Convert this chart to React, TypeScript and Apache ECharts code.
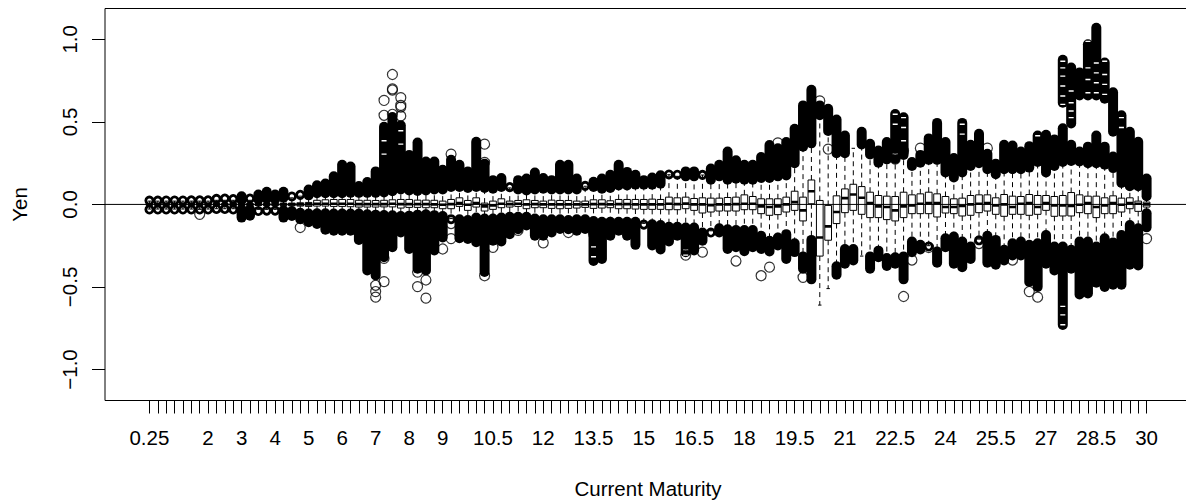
import React, { useEffect, useRef } from "react";
import * as echarts from "echarts";

const tickLabels = ["0.25","2","3","4","5","6","7","8","9","10.5","12","13.5","15","16.5","18","19.5","21","22.5","24","25.5","27","28.5","30"];
const tickIndexes = [0,7,11,15,19,23,27,31,35,41,47,53,59,65,71,77,83,89,95,101,107,113,119];
const yTicks = [-1, -0.5, 0, 0.5, 1];

const upperFence = [
  .02,.02,.02,.02,.02,.02,.02,.02,.025,.025,
  .025,.025,.025,.03,.035,.03,.04,.04,.05,.055,
  .068,.068,.068,.068,.07,.07,.07,.07,.072,.08,
  .09,.085,.082,.085,.09,.09,.105,.105,.1,.105,
  .1,.095,.105,.1,.09,.085,.09,.095,.09,.09,
  .09,.09,.11,.105,.095,.1,.115,.115,.12,.12,
  .12,.125,.18,.17,.17,.17,.178,.15,.17,.15,
  .155,.15,.15,.16,.16,.17,.175,.25,.35,.37,
  .54,.445,.31,.31,.34,.363,.303,.253,.273,.275,
  .3,.233,.253,.27,.27,.193,.163,.193,.233,.249,
  .213,.183,.213,.213,.213,.223,.257,.193,.233,.257,
  .263,.26,.25,.25,.24,.22,.13,.11,.11,.05,
];
const upperTop = [
  .026,.026,.028,.028,.028,.03,.03,.03,.042,.046,
  .04,.05,.046,.06,.076,.06,.076,.056,.066,.09,
  .116,.126,.17,.24,.23,.112,.136,.2,.47,.53,
  .48,.30,.375,.26,.26,.21,.27,.24,.2,.38,
  .247,.147,.16,.11,.147,.157,.193,.16,.147,.24,
  .24,.157,.115,.137,.157,.18,.24,.197,.18,.147,
  .163,.177,.183,.19,.2,.2,.18,.217,.24,.32,
  .267,.24,.24,.287,.36,.34,.378,.458,.6,.695,
  .6,.58,.515,.418,null,.44,.367,.327,.378,.548,
  .528,.257,.3,.4,.494,.378,.281,.494,.361,.428,
  .307,.247,.361,.357,.321,.353,.418,.422,.394,.462,
  .361,.32,.35,.418,.35,.29,.54,.44,.38,.157,
];
const secondBandIndex = [109,110,111,112,113,114,115];
const secondBandFrom = [.616,.49,.66,.66,.66,.64,.44];
const secondBandTo = [.877,.83,.80,.97,1.07,.86,.68];

const lowerFence = [
  -.028,-.028,-.028,-.028,-.028,-.028,-.028,-.028,-.026,-.026,
  -.026,-.03,-.03,-.03,-.03,-.03,-.035,-.04,-.05,-.055,
  -.054,-.054,-.055,-.055,-.055,-.055,-.06,-.062,-.064,-.066,
  -.07,-.068,-.062,-.06,-.065,-.07,-.084,-.09,-.095,-.08,
  -.085,-.085,-.08,-.075,-.075,-.075,-.085,-.09,-.09,-.09,
  -.095,-.09,-.09,-.10,-.105,-.105,-.105,-.105,-.105,-.115,
  -.12,-.125,-.135,-.135,-.14,-.14,-.17,-.16,-.145,-.15,
  -.155,-.155,-.155,-.19,-.22,-.2,-.18,-.235,-.315,-.215,
  -.61,-.51,-.375,-.27,-.27,-.313,-.315,-.28,-.325,-.32,
  -.315,-.225,-.245,-.25,-.285,-.205,-.195,-.225,-.255,-.21,
  -.19,-.215,-.275,-.235,-.225,-.245,-.235,-.185,-.255,-.255,
  -.275,-.225,-.225,-.255,-.205,-.23,-.185,-.125,-.145,-.054,
];
const lowerBottom = [
  -.034,-.034,-.034,-.034,-.034,-.034,-.034,-.034,-.03,-.03,
  -.036,-.08,-.068,-.05,-.045,-.045,-.08,-.07,-.09,-.108,
  -.118,-.153,-.159,-.159,-.159,-.215,-.4,-.43,-.32,-.259,
  -.17,-.27,-.39,-.4,-.279,-.2,-.095,-.205,-.21,-.229,
  -.41,-.22,-.225,-.18,-.15,-.128,-.19,-.19,-.17,-.149,
  -.15,-.159,-.149,-.343,-.33,-.19,-.16,-.19,-.245,-.13,
  -.249,-.273,-.225,-.19,-.29,-.279,-.22,-.18,-.17,-.27,
  -.26,-.283,-.26,-.27,-.285,-.249,-.33,-.289,-.39,-.454,
  null,null,-.426,-.36,-.34,null,-.39,-.32,-.373,-.36,
  -.454,-.29,-.273,-.26,-.353,-.26,-.36,-.38,-.33,-.225,
  -.353,-.365,-.34,-.31,-.31,-.47,-.5,-.36,-.40,-.73,
  -.39,-.546,-.54,-.474,-.5,-.486,-.486,-.365,-.37,-.139,
];
const q3 = [
  .005,.005,.005,.005,.005,.005,.005,.005,.005,.005,
  .006,.006,.006,.006,.007,.007,.008,.008,.01,.012,
  .025,.028,.03,.03,.03,.025,.025,.024,.025,.028,
  .03,.03,.026,.026,.025,.02,.03,.04,.024,.04,
  .008,.02,.034,.02,.024,.028,.024,.02,.026,.024,
  .024,.02,.02,.028,.028,.022,.03,.03,.03,.03,
  .032,.03,.044,.04,.044,.036,.04,.038,.038,.042,
  .044,.058,.048,.034,.034,.034,.044,.08,.044,.148,
  .024,-.006,.052,.094,.122,.108,.074,.054,.05,.048,
  .074,.058,.064,.074,.064,.048,.034,.038,.054,.058,
  .058,.04,.06,.05,.048,.06,.054,.054,.048,.054,
  .072,.058,.05,.05,.04,.052,.038,.04,.02,.014,
];
const median = [
  0,0,0,0,0,0,0,0,0,0,
  0,0,0,0,0,0,0,0,0,0,
  .004,.004,.004,.004,.004,.002,.002,.002,.002,.004,
  .002,.002,.002,.002,0,-.002,.002,.008,-.002,.008,
  -.012,-.006,.004,.002,.004,0,.002,0,0,0,
  0,0,0,.002,.002,0,.002,.002,0,0,
  0,0,.004,.002,.006,0,0,-.004,0,0,
  .002,.004,.004,-.012,-.016,-.012,0,.014,-.036,.08,
  -.2,-.133,-.046,.038,.06,.04,.008,-.012,-.016,-.036,
  -.012,-.006,.004,.008,.008,-.016,-.016,-.01,0,.004,
  .008,-.006,0,-.016,.004,.008,-.016,.008,-.006,-.006,
  -.01,-.002,.008,-.016,-.006,.008,-.002,.008,.004,0,
];
const q1 = [
  -.005,-.005,-.005,-.005,-.005,-.005,-.005,-.005,-.005,-.005,
  -.006,-.006,-.006,-.006,-.007,-.007,-.008,-.008,-.01,-.012,
  -.01,-.01,-.012,-.012,-.014,-.016,-.016,-.016,-.015,-.015,
  -.022,-.018,-.018,-.02,-.02,-.026,-.026,-.012,-.036,-.016,
  -.04,-.03,-.02,-.016,-.012,-.026,-.02,-.02,-.024,-.026,
  -.024,-.022,-.018,-.024,-.022,-.02,-.026,-.026,-.028,-.03,
  -.03,-.03,-.032,-.032,-.026,-.036,-.052,-.046,-.04,-.04,
  -.04,-.032,-.032,-.056,-.066,-.062,-.046,-.036,-.1,.004,
  -.313,-.217,-.116,-.05,-.036,-.06,-.08,-.08,-.092,-.1,
  -.08,-.056,-.056,-.056,-.076,-.052,-.056,-.07,-.066,-.05,
  -.04,-.06,-.072,-.06,-.06,-.066,-.06,-.036,-.072,-.07,
  -.07,-.05,-.056,-.08,-.056,-.056,-.046,-.026,-.042,-.016,
];
const sparseIndex = [28,28,29,29,29,29,30,30,30,30,36,40,40,75,80,81,89,90,92,100,27,27,27,28,28,32,32,33,33,35,36,36,40,41,44,47,50,53,64,66,70,73,74,78,90,91,93,99,103,105,106,119,6,18];
const sparseValue = [.63,.54,.787,.70,.693,.546,.647,.60,.59,.536,.305,.365,.255,.373,.627,.335,.275,.325,.341,.341,-.528,-.562,-.49,-.327,-.468,-.498,-.41,-.458,-.568,-.27,-.116,-.207,-.432,-.26,-.157,-.233,-.17,-.177,-.307,-.289,-.343,-.432,-.38,-.442,-.558,-.337,-.261,-.237,-.337,-.528,-.562,-.207,-.06,-.14];
// Places where the interior of a circle still shows through a dense stack of outliers.
const openingIndex = [109,109,109,109,109,109,109,109,109,113,113,113,113,110,110,110,110,112,112,112,112,112,112,112,114,114,114,114,116,116,89,89,89,90,90,90,97,97,28,28,30,30,30,106,53,53,64,64];
const openingValue = [.867,.827,.777,.717,.657,.606,-.618,-.669,-.729,.857,.797,.737,.677,.687,.616,.566,.526,.988,.827,.757,.677,.506,.456,.406,.867,.787,.727,.667,.526,.466,.546,.486,.305,.526,.466,.386,.486,.426,.386,.305,.526,.446,.365,.416,-.257,-.317,-.277,-.307];

const INK = "#000";
const FONT = "Liberation Sans";
const FS = 20.5;

function renderBand(_p: any, api: any) {
  const i = api.value(0), from = api.value(1), to = api.value(2);
  const a = api.coord([i, from]);
  const b = api.coord([i, to]);
  if (Math.abs(a[1] - b[1]) < 3.5) {
    return {
      type: "circle",
      shape: { cx: a[0], cy: (a[1] + b[1]) / 2, r: 3.6 },
      style: { fill: "none", stroke: INK, lineWidth: 2.8 },
    };
  }
  return {
    type: "line",
    shape: { x1: a[0], y1: a[1], x2: b[0], y2: b[1] },
    style: { stroke: INK, lineWidth: 10, lineCap: "round" },
  };
}

function renderOpening(_p: any, api: any) {
  const c = api.coord([api.value(0), api.value(1)]);
  return {
    type: "line",
    shape: { x1: c[0] - 2.5, y1: c[1], x2: c[0] + 2.5, y2: c[1] },
    style: { stroke: "#fff", lineWidth: 1.4 },
  };
}

function renderBox(_p: any, api: any) {
  const i = api.value(0);
  const hw = 3.35, cap = 1.7;
  const x = api.coord([i, 0])[0];
  const y = (v: number) => api.coord([i, v])[1];
  const yQ1 = y(api.value(1)), yMed = y(api.value(2)), yQ3 = y(api.value(3));
  const yLo = y(api.value(4)), yHi = y(api.value(5));
  const dash = { stroke: INK, lineWidth: 1, lineDash: [5, 4] };
  const solid = { stroke: INK, lineWidth: 1 };
  return {
    type: "group",
    children: [
      { type: "line", shape: { x1: x, y1: yQ3, x2: x, y2: yHi }, style: dash },
      { type: "line", shape: { x1: x, y1: yQ1, x2: x, y2: yLo }, style: dash },
      { type: "line", shape: { x1: x - cap, y1: yHi, x2: x + cap, y2: yHi }, style: solid },
      { type: "line", shape: { x1: x - cap, y1: yLo, x2: x + cap, y2: yLo }, style: solid },
      { type: "rect", shape: { x: x - hw, y: yQ3, width: hw * 2, height: Math.max(yQ1 - yQ3, 1) }, style: { fill: "none", stroke: INK, lineWidth: 1 } },
      { type: "line", shape: { x1: x - hw, y1: yMed, x2: x + hw, y2: yMed }, style: { stroke: INK, lineWidth: 2.6 } },
    ],
  };
}

export default function App() {
  const ref = useRef<HTMLDivElement>(null);
  useEffect(() => {
    document.body.style.margin = "0";
    const chart = echarts.init(ref.current!, undefined, { renderer: "svg" });
    const bands: any[] = [];
    upperTop.forEach((t, i) => { if (t !== null) bands.push([i, upperFence[i], t]); });
    lowerBottom.forEach((b, i) => { if (b !== null) bands.push([i, lowerFence[i], b]); });
    secondBandIndex.forEach((i, k) => bands.push([i, secondBandFrom[k], secondBandTo[k]]));
    const boxes = q1.map((v, i) => [i, v, median[i], q3[i], lowerFence[i], upperFence[i]]);
    const sparse = sparseIndex.map((i, k) => [i, sparseValue[k]]);
    const openings = openingIndex.map((i, k) => [i, openingValue[k]]);
    chart.setOption({
      animation: false,
      backgroundColor: "#fff",
      textStyle: { fontFamily: FONT },
      grid: { left: 105, top: 8.5, width: 1086, height: 392, show: true, borderColor: INK, borderWidth: 1, backgroundColor: "transparent", outerBoundsMode: "none" },
      xAxis: {
        type: "value", min: -5.3, max: 124.3,
        splitLine: { show: false },
        axisLine: { show: false, onZero: false },
        axisTick: { show: true, length: 13, customValues: upperFence.map((_, i) => i), lineStyle: { color: INK, width: 1 } },
        axisLabel: {
          customValues: tickIndexes, margin: 26, hideOverlap: false, color: INK, fontSize: FS, fontFamily: FONT,
          formatter: (v: number) => tickLabels[tickIndexes.indexOf(v)] ?? "",
        },
        name: "Current Maturity", nameLocation: "middle", nameGap: 77,
        nameTextStyle: { color: INK, fontSize: FS, fontFamily: FONT },
      },
      yAxis: {
        type: "value", min: -1.188, max: 1.187,
        splitLine: { show: false },
        axisLine: { show: false, onZero: false },
        axisTick: { show: true, length: 13, customValues: yTicks, lineStyle: { color: INK, width: 1 } },
        axisLabel: {
          customValues: yTicks, rotate: 90, margin: 25, color: INK, fontSize: FS, fontFamily: FONT,
          formatter: (v: number) => (v < 0 ? "\u2212" : "") + Math.abs(v).toFixed(1),
        },
        name: "Yen", nameLocation: "middle", nameGap: 75, nameRotate: 90,
        nameTextStyle: { color: INK, fontSize: FS, fontFamily: FONT },
      },
      series: [
        { type: "custom", name: "Boxes", coordinateSystem: "cartesian2d", clip: true, silent: true, data: boxes, renderItem: renderBox, encode: { x: 0, y: [1, 2, 3, 4, 5] }, z: 2 },
        { type: "custom", name: "Dense outliers", coordinateSystem: "cartesian2d", clip: true, silent: true, data: bands, renderItem: renderBand, encode: { x: 0, y: [1, 2] }, z: 3 },
        { type: "custom", name: "Openings", coordinateSystem: "cartesian2d", clip: true, silent: true, data: openings, renderItem: renderOpening, encode: { x: 0, y: 1 }, z: 4 },
        { type: "scatter", name: "Outliers", data: sparse, symbol: "circle", symbolSize: 10, silent: true, itemStyle: { color: "transparent", borderColor: INK, borderWidth: 1.2 }, z: 5 },
        { type: "line", name: "Zero", data: [[-5.3, 0], [124.3, 0]], symbol: "none", silent: true, lineStyle: { color: INK, width: 1 }, z: 6 },
      ],
    });
    return () => chart.dispose();
  }, []);
  return <div ref={ref} style={{ width: 1186, height: 500 }} />;
}
